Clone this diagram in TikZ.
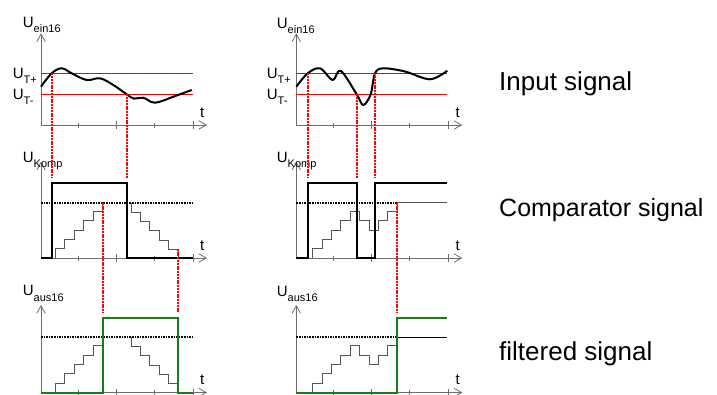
\documentclass[tikz,border=0pt]{standalone}
\usepackage{fontspec}
\setmainfont{Liberation Sans}
\usetikzlibrary{arrows.meta}
\definecolor{axisgray}{RGB}{110,110,110}
\definecolor{stairgray}{RGB}{85,85,85}
\definecolor{filtgreen}{RGB}{20,128,20}

% U with a subscript, as on the axes
\newcommand{\ulab}[1]{{\fontsize{15}{15}\selectfont U}\raisebox{-5.5pt}{\fontsize{11}{11}\selectfont #1}}
% axes of one panel: x0, y0 (time axis), top of the U axis
\newcommand{\panelaxes}[3]{%
  \draw[axis] (#1,#2) -- (#1,#3);
  \draw[axis] (#1,#2) -- (#1+166,#2);
  \foreach \d/\s in {37/2.5, 75/4, 113/2.5, 152/4}
    \draw[axisgray, line width=0.8pt] (#1+\d,#2-\s) -- (#1+\d,#2+\s);
  \node[anchor=base west, inner sep=0] at (#1+159,#2-8) {\fontsize{15}{15}\selectfont t};
}
% counter staircases, drawn at the comparator ground line
\newcommand{\leftstairs}{%
  \draw[stair] (55.2,258) \foreach \i in {1,...,5} { -- ++(0,-9.33) -- ++(9.5,0) } -- ++(0,-9.33);
  \draw[stair] (131.2,202.7) \foreach \i in {1,...,5} { -- ++(0,9.33) -- ++(9.36,0) } -- ++(0,9.33);
}
\newcommand{\rightstairs}{%
  \draw[stair] (312.7,258) \foreach \i in {1,...,4} { -- ++(0,-9.33) -- ++(9.4,0) }
    -- ++(0,-9.33) -- ++(9.4,0) -- ++(0,9.33) -- ++(9.4,0) -- ++(0,9.33) -- ++(9.4,0)
    \foreach \i in {1,2} { -- ++(0,-9.33) -- ++(9.4,0) } -- ++(0,-9.33);
}

\tikzset{
  axis/.style={draw=axisgray, line width=0.8pt, -{Straight Barb[length=7.5pt,width=8.5pt]}},
  level/.style={red, line width=0.8pt},
  insig/.style={line width=2pt, line join=round},
  pulse/.style={line width=2pt, line join=miter},
  outsig/.style={draw=filtgreen, line width=2pt, line join=miter},
  stair/.style={draw=stairgray, line width=0.9pt},
  thr/.style={line width=2pt, dash pattern=on 1.6pt off 1pt},
  sync/.style={red, line width=2.3pt, dash pattern=on 2pt off 0.8pt},
  caption/.style={anchor=base west, inner sep=0},
}

\begin{document}
\begin{tikzpicture}[x=1pt, y=-1pt]
  \useasboundingbox (0,0) rectangle (717,394);

  % axes
  \panelaxes{41}{125}{33.3}
  \panelaxes{41}{258}{161.7}
  \panelaxes{41}{392.5}{305}
  \panelaxes{296.3}{125}{33.3}
  \panelaxes{296.3}{258}{161.7}
  \panelaxes{296.3}{392.5}{305}

  % axis labels
  \node[caption] (einL) at (22.7,27.3) {\ulab{ein16}};
  \node[caption] (kompL) at (22.7,162.3) {\ulab{Komp}};
  \node[caption] (ausL) at (22.7,295.7) {\ulab{aus16}};
  \node[caption] (einR) at (276.7,28.3) {\ulab{ein16}};
  \node[caption] (kompR) at (276.7,162) {\ulab{Komp}};
  \node[caption] (ausR) at (276.7,296) {\ulab{aus16}};
  \node[caption] (tpL) at (12.7,78) {\ulab{T+}};
  \node[caption] (tmL) at (12.7,99.3) {\ulab{T-}};
  \node[caption] (tpR) at (266.7,78) {\ulab{T+}};
  \node[caption] (tmR) at (266.7,99.3) {\ulab{T-}};

  % switching levels
  \draw[level] (41,73.3) -- (193,73.3);
  \draw[level] (41,94.3) -- (193,94.3);
  \draw[level] (296.3,73.3) -- (447.3,73.3);
  \draw[level] (296.3,94.3) -- (447.3,94.3);

  % input signals
  \draw[insig] plot[smooth, tension=0.6] coordinates {(41,86.7) (51.7,73.3) (61.7,68.3) (71.7,73.3)
    (86.7,80) (100,78.3) (113.3,85) (126.7,94.3) (134,98.6) (143.3,97.7) (155,102.7) (173.3,96.7) (191.7,90)};
  \draw[insig] plot[smooth, tension=0.55] coordinates {(296.3,86.7) (307.7,73.3) (320,68.3) (332.7,80)
    (340.7,70.7) (356.7,94.3) (363.3,105) (370.7,94.3) (375,73.3) (383.3,68.3)
    (405,71.5) (430,79.3) (447.3,70.7)};

  % counter staircases
  \leftstairs
  \rightstairs
  \begin{scope}[shift={(0,134.5)}]
    \leftstairs
    \rightstairs
  \end{scope}

  % thresholds
  \draw[thr] (41,202.7) -- (193,202.7);
  \draw[thr] (296.3,202.7) -- (397.3,202.7);
  \draw[stair] (397.3,202.7) -- (447.3,202.7);
  \draw[thr] (41,337.2) -- (193,337.2);
  \draw[thr] (296.3,337.2) -- (397.3,337.2);
  \draw[black, line width=0.8pt] (397.3,337.2) -- (447.3,337.2);

  % comparator outputs
  \draw[pulse] (41,258) -- (51.7,258) -- (51.7,183.3) -- (126.7,183.3) -- (126.7,258) -- (193,258);
  \draw[pulse] (296.3,258) -- (307.7,258) -- (307.7,183.3) -- (356.7,183.3) -- (356.7,258)
    -- (375,258) -- (375,183.3) -- (447.3,183.3);

  % filtered outputs
  \draw[outsig] (41,392.5) -- (102.7,392.5) -- (102.7,317.5) -- (178,317.5) -- (178,392.5) -- (193,392.5);
  \draw[outsig] (296.3,392.5) -- (397.3,392.5) -- (397.3,317.5) -- (447.3,317.5);

  % switching instants
  \coordinate (inA) at (51.7,73.3);   \coordinate (cmA) at (51.7,178);
  \coordinate (inB) at (126.7,94.3);  \coordinate (cmB) at (126.7,178);
  \coordinate (cmC) at (102.7,202.7); \coordinate (fiC) at (102.7,313);
  \coordinate (cmD) at (178,248.7);   \coordinate (fiD) at (178,313);
  \coordinate (inE) at (307.7,73.3);  \coordinate (cmE) at (307.7,178);
  \coordinate (inF) at (356.7,94.3);  \coordinate (cmF) at (356.7,178);
  \coordinate (inG) at (375,73.3);    \coordinate (cmG) at (375,178);
  \coordinate (cmH) at (397.3,202.7); \coordinate (fiH) at (397.3,313);
  \foreach \a/\b in {inA/cmA, inB/cmB, cmC/fiC, cmD/fiD, inE/cmE, inF/cmF, inG/cmG, cmH/fiH}
    \draw[sync] (\a) -- (\b);

  % row captions
  \node[caption] (capIn) at (499,90.7) {\fontsize{26}{30}\selectfont Input signal};
  \node[caption] (capComp) at (499,216.7) {\fontsize{25}{30}\selectfont Comparator signal};
  \node[caption] (capFilt) at (499,360) {\fontsize{26}{30}\selectfont filtered signal};
\end{tikzpicture}
\end{document}
